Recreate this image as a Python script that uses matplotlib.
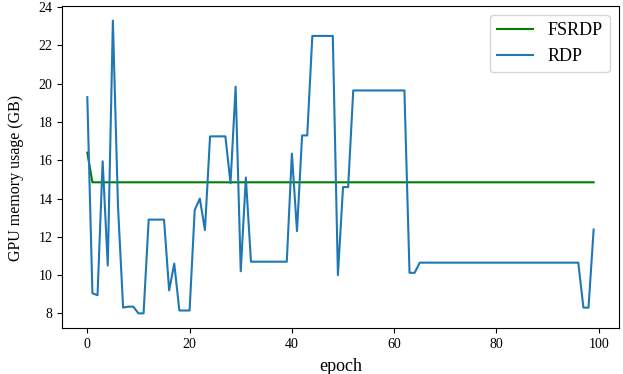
import matplotlib
matplotlib.use("Agg")
import matplotlib.pyplot as plt

plt.rcParams['font.family'] = ['Liberation Serif', 'DejaVu Serif']

epochs = list(range(100))

fsrdp = [16.4] + [14.85] * 99

rdp = [
    19.3, 9.05, 8.95, 15.95, 10.5, 23.3, 13.6, 8.3, 8.35, 8.35,
    8.0, 8.0, 12.9, 12.9, 12.9, 12.9, 9.2, 10.6, 8.15, 8.15,
    8.15, 13.4, 14.0, 12.35, 17.25, 17.25, 17.25, 17.25, 14.8, 19.85,
    10.2, 15.1, 10.7, 10.7, 10.7, 10.7, 10.7, 10.7, 10.7, 10.7,
    16.35, 12.3, 17.3, 17.3, 22.5, 22.5, 22.5, 22.5, 22.5, 10.0,
    14.6, 14.6, 19.65, 19.65, 19.65, 19.65, 19.65, 19.65, 19.65, 19.65,
    19.65, 19.65, 19.65, 10.12, 10.12, 10.65, 10.65, 10.65, 10.65, 10.65,
    10.65, 10.65, 10.65, 10.65, 10.65, 10.65, 10.65, 10.65, 10.65, 10.65,
    10.65, 10.65, 10.65, 10.65, 10.65, 10.65, 10.65, 10.65, 10.65, 10.65,
    10.65, 10.65, 10.65, 10.65, 10.65, 10.65, 10.65, 8.3, 8.3, 12.38,
]

fig = plt.figure(figsize=(6.23, 3.74), dpi=100)
ax = fig.add_axes([0.0995, 0.123, 0.894, 0.861])
ax.plot(epochs, fsrdp, color='green', lw=1.5, label='FSRDP')
ax.plot(epochs, rdp, color='tab:blue', lw=1.5, label='RDP')
ax.set_xlabel('epoch', fontsize=13, labelpad=5)
ax.set_ylabel('GPU memory usage (GB)', fontsize=11.5)
ax.yaxis.set_label_coords(-0.068, 0.466)
ax.set_yticks([8, 10, 12, 14, 16, 18, 20, 22, 24])
ax.set_xticks([0, 20, 40, 60, 80, 100])
ax.tick_params(labelsize=10)
ax.legend(loc='upper right', fontsize=13)
fig.savefig('out.png', dpi=100)
